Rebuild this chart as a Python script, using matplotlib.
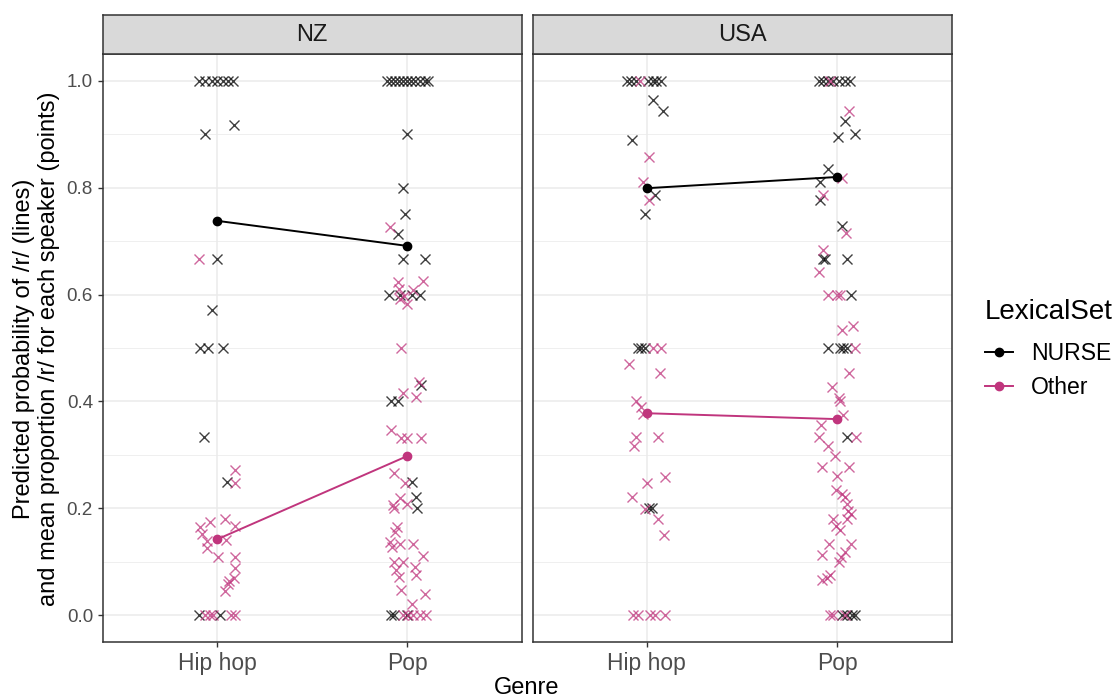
# Vorhergesagte /r/-Wahrscheinlichkeit nach Genre, Land und LexicalSet

import matplotlib
matplotlib.use('Agg')
import matplotlib.pyplot as plt
from matplotlib.lines import Line2D

plt.rcParams['font.family'] = ['Liberation Sans', 'DejaVu Sans']

genres = ['Hip hop', 'Pop']
countries = ['NZ', 'USA']
sets = ['NURSE', 'Other']

# Modellvorhersagen (Linien)
pred = {
    ('NZ', 'NURSE'): [0.738, 0.691],
    ('NZ', 'Other'): [0.142, 0.298],
    ('USA', 'NURSE'): [0.799, 0.820],
    ('USA', 'Other'): [0.378, 0.367],
}

# Sprecher-Mittelwerte (Punkte) und Jitter je Punkt
nz_hh_nurse = [1, 1, 1, 1, 1, 1, 1, 0.9, 0.917, 0.667, 0.571, 0.5, 0.5, 0.5,
               0.333, 0.25, 0, 0]
nz_hh_nurse_j = [-0.094, -0.063, -0.026, 0, 0.031, 0.058, 0.084, -0.061, 0.087,
                 0, -0.026, -0.087, -0.045, 0.031, -0.068, 0.052, -0.094, 0.014]
nz_hh_other = [0.667, 0.2715, 0.248, 0.165, 0.175, 0.18, 0.167, 0.153, 0.139,
               0.125, 0.14, 0.109, 0.109, 0.0886, 0.0705, 0.064, 0.058, 0.0455,
               0, 0, 0, 0, 0]
nz_hh_other_j = [-0.094, 0.094, 0.094, -0.091, -0.038, 0.044, 0.093, -0.08,
                 -0.05, -0.055, 0.049, 0.007, 0.096, 0.093, 0.087, 0.063, 0.058,
                 0.04, -0.064, -0.038, -0.021, 0.075, 0.093]

nz_pop_nurse = [1, 1, 1, 1, 1, 1, 1, 1, 1, 1, 1, 0.9, 0.8, 0.75, 0.714, 0.667,
                0.667, 0.6, 0.6, 0.6, 0.6, 0.43, 0.4, 0.4, 0.25, 0.222, 0.2,
                0, 0, 0]
nz_pop_nurse_j = [-0.105, -0.084, -0.063, -0.042, -0.021, 0, 0.021, 0.042, 0.068,
                  0.094, 0.11, 0, -0.021, -0.012, -0.047, -0.021, 0.093, -0.097,
                  -0.038, 0.023, 0.066, 0.072, -0.087, -0.047, 0.023, 0.044,
                  0.052, -0.087, -0.073, 0]
nz_pop_other = [0.726, 0.624, 0.626, 0.609, 0.61, 0.598, 0.591, 0.582, 0.5,
                0.437, 0.416, 0.4076, 0.346, 0.332, 0.332, 0.332, 0.266, 0.248,
                0.2185, 0.208, 0.206, 0.2, 0.165, 0.156, 0.137, 0.128, 0.133,
                0.133, 0.1, 0.1, 0.084, 0.072, 0.09, 0.075, 0.11, 0.047, 0.039,
                0.022, 0, 0, 0, 0, 0]
nz_pop_other_j = [-0.094, -0.047, 0.084, 0.031, -0.042, -0.017, -0.038, 0,
                  -0.033, 0.063, -0.021, 0.044, -0.087, -0.033, -0.003, 0.072,
                  -0.07, -0.012, -0.038, -0.003, -0.076, -0.073, -0.055, -0.064,
                  -0.094, -0.079, -0.038, 0.028, -0.073, -0.021, -0.061, -0.042,
                  0.04, 0.046, 0.081, -0.035, 0.094, 0.025, -0.021, 0.005, 0.031,
                  0.066, 0.098]

us_hh_nurse = [1, 1, 1, 1, 1, 1, 1, 0.964, 0.944, 0.889, 0.786, 0.75, 0.5,
               0.5, 0.5, 0.2, 0.2]
us_hh_nurse_j = [-0.105, -0.082, -0.055, 0.005, 0.031, 0.049, 0.075, 0.031,
                 0.084, -0.076, 0.04, -0.008, -0.047, -0.029, -0.012, 0.01, 0.025]
us_hh_other = [1, 0.857, 0.81, 0.777, 0.5, 0.5, 0.471, 0.454, 0.4, 0.39, 0.376,
               0.333, 0.333, 0.316, 0.259, 0.248, 0.222, 0.1985, 0.181, 0.151,
               0, 0, 0, 0, 0]
us_hh_other_j = [-0.038, 0.01, -0.021, 0.01, 0.031, 0.075, -0.096, 0.066,
                 -0.055, -0.029, -0.021, -0.055, 0.058, -0.07, 0.094, 0, -0.076,
                 -0.012, 0.058, 0.087, -0.073, -0.047, 0.014, 0.04, 0.093]

us_pop_nurse = [1, 1, 1, 1, 1, 1, 1, 0.924, 0.9, 0.894, 0.835, 0.811, 0.777,
                0.7285, 0.667, 0.667, 0.667, 0.6, 0.5, 0.5, 0.5, 0.5, 0.333,
                0, 0, 0, 0]
us_pop_nurse_j = [-0.094, -0.073, -0.047, -0.021, 0.01, 0.04, 0.066, 0.04, 0.094,
                  0.005, -0.047, -0.091, -0.091, 0.023, -0.076, -0.063, 0.049,
                  0.07, -0.047, 0.014, 0.031, 0.049, 0.049, 0.023, 0.049, 0.075,
                  0.093]
us_pop_other = [1, 0.943, 0.818, 0.786, 0.715, 0.684, 0.643, 0.6, 0.6, 0.6,
                0.534, 0.542, 0.5, 0.454, 0.428, 0.407, 0.4, 0.3745, 0.356, 0.333,
                0.333, 0.3165, 0.298, 0.278, 0.278, 0.26, 0.235, 0.2266, 0.2216,
                0.209, 0.1955, 0.189, 0.181, 0.181, 0.167, 0.16, 0.133, 0.134,
                0.1185, 0.1136, 0.109, 0.1, 0.075, 0.0655, 0.0705, 0, 0, 0]
us_pop_other_j = [-0.038, 0.061, 0.023, -0.076, 0.046, -0.076, -0.097, -0.047,
                  -0.003, 0.014, 0.023, 0.081, 0.093, 0.063, -0.029, 0.01, 0.014,
                  0.031, -0.087, -0.097, 0.098, -0.047, -0.012, -0.079, 0.063, 0,
                  -0.007, 0.023, 0.04, 0.049, 0.058, 0.07, 0.049, -0.021, -0.007,
                  0.014, -0.042, 0.072, 0.04, -0.079, 0.019, 0.009, -0.038,
                  -0.079, -0.055, -0.038, -0.021, 0.04]

speakers = {
    ('NZ', 'Hip hop', 'NURSE'): (nz_hh_nurse, nz_hh_nurse_j),
    ('NZ', 'Hip hop', 'Other'): (nz_hh_other, nz_hh_other_j),
    ('NZ', 'Pop', 'NURSE'): (nz_pop_nurse, nz_pop_nurse_j),
    ('NZ', 'Pop', 'Other'): (nz_pop_other, nz_pop_other_j),
    ('USA', 'Hip hop', 'NURSE'): (us_hh_nurse, us_hh_nurse_j),
    ('USA', 'Hip hop', 'Other'): (us_hh_other, us_hh_other_j),
    ('USA', 'Pop', 'NURSE'): (us_pop_nurse, us_pop_nurse_j),
    ('USA', 'Pop', 'Other'): (us_pop_other, us_pop_other_j),
}

farben = {'NURSE': '#000000', 'Other': '#C0357D'}
rahmen = '#333333'

fig = plt.figure(figsize=(11.13, 6.98), dpi=100)

lefts = [0.0923, 0.4786]
breite = 0.3764
unten, hoehe = 0.0802, 0.8424
strip_h = 0.0559

for i, land in enumerate(countries):
    ax = fig.add_axes([lefts[i], unten, breite, hoehe])
    ax.set_xlim(0.4, 2.6)
    ax.set_ylim(-0.05, 1.05)
    ax.set_xticks([1, 2])
    ax.set_xticklabels(genres)
    ax.set_yticks([0, 0.2, 0.4, 0.6, 0.8, 1.0])
    ax.set_yticks([0.1, 0.3, 0.5, 0.7, 0.9], minor=True)
    if i == 0:
        ax.set_yticklabels(['0.0', '0.2', '0.4', '0.6', '0.8', '1.0'])
    else:
        ax.set_yticklabels([])
    ax.tick_params(axis='both', which='major', labelcolor='#4D4D4D',
                   color=rahmen, length=3.5, width=1)
    ax.tick_params(axis='y', labelsize=13.6)
    ax.tick_params(axis='x', labelsize=16.5, pad=4)
    ax.tick_params(axis='y', which='minor', length=0)
    if i == 1:
        ax.tick_params(axis='y', which='major', length=0)
    ax.grid(True, which='major', color='#EBEBEB', lw=1.1, zorder=0)
    ax.grid(True, which='minor', axis='y', color='#EBEBEB', lw=0.55, zorder=0)
    ax.set_axisbelow(True)
    for s in ax.spines.values():
        s.set_color(rahmen)
        s.set_linewidth(1.1)

    for ls in sets:
        for g, genre in enumerate(genres):
            werte, jit = speakers[(land, genre, ls)]
            xs = [g + 1 + j for j in jit]
            ax.plot(xs, werte, 'x', color=farben[ls], alpha=0.75, ms=7,
                    mew=1.0, zorder=2)
        ax.plot([1, 2], pred[(land, ls)], '-o', color=farben[ls], lw=1.4, ms=6,
                zorder=3)

    # Facettenbeschriftung
    sax = fig.add_axes([lefts[i], unten + hoehe, breite, strip_h])
    sax.set_facecolor('#D9D9D9')
    sax.set_xticks([])
    sax.set_yticks([])
    for s in sax.spines.values():
        s.set_color(rahmen)
        s.set_linewidth(1.1)
    sax.text(0.5, 0.48, land, ha='center', va='center', fontsize=17,
             color='#1A1A1A', transform=sax.transAxes)

fig.text(0.033, 0.5,
         'Predicted probability of /r/ (lines)\n'
         'and mean proportion /r/ for each speaker (points)',
         rotation=90, ha='center', va='center', fontsize=17,
         linespacing=1.15)
fig.text(0.4734, 0.015, 'Genre', ha='center', va='center', fontsize=17)

handles = [Line2D([], [], color=farben[ls], marker='o', lw=1.4, ms=6)
           for ls in sets]
leg = fig.legend(handles, sets, title='LexicalSet', loc='center left',
                 bbox_to_anchor=(0.885, 0.5), frameon=False, fontsize=16.6,
                 title_fontsize=20, handlelength=1.2, handletextpad=0.8,
                 labelspacing=0.5, borderaxespad=0, borderpad=0)
leg._legend_box.align = 'left'
leg._legend_box.sep = 12

fig.savefig('out.png', dpi=100)
